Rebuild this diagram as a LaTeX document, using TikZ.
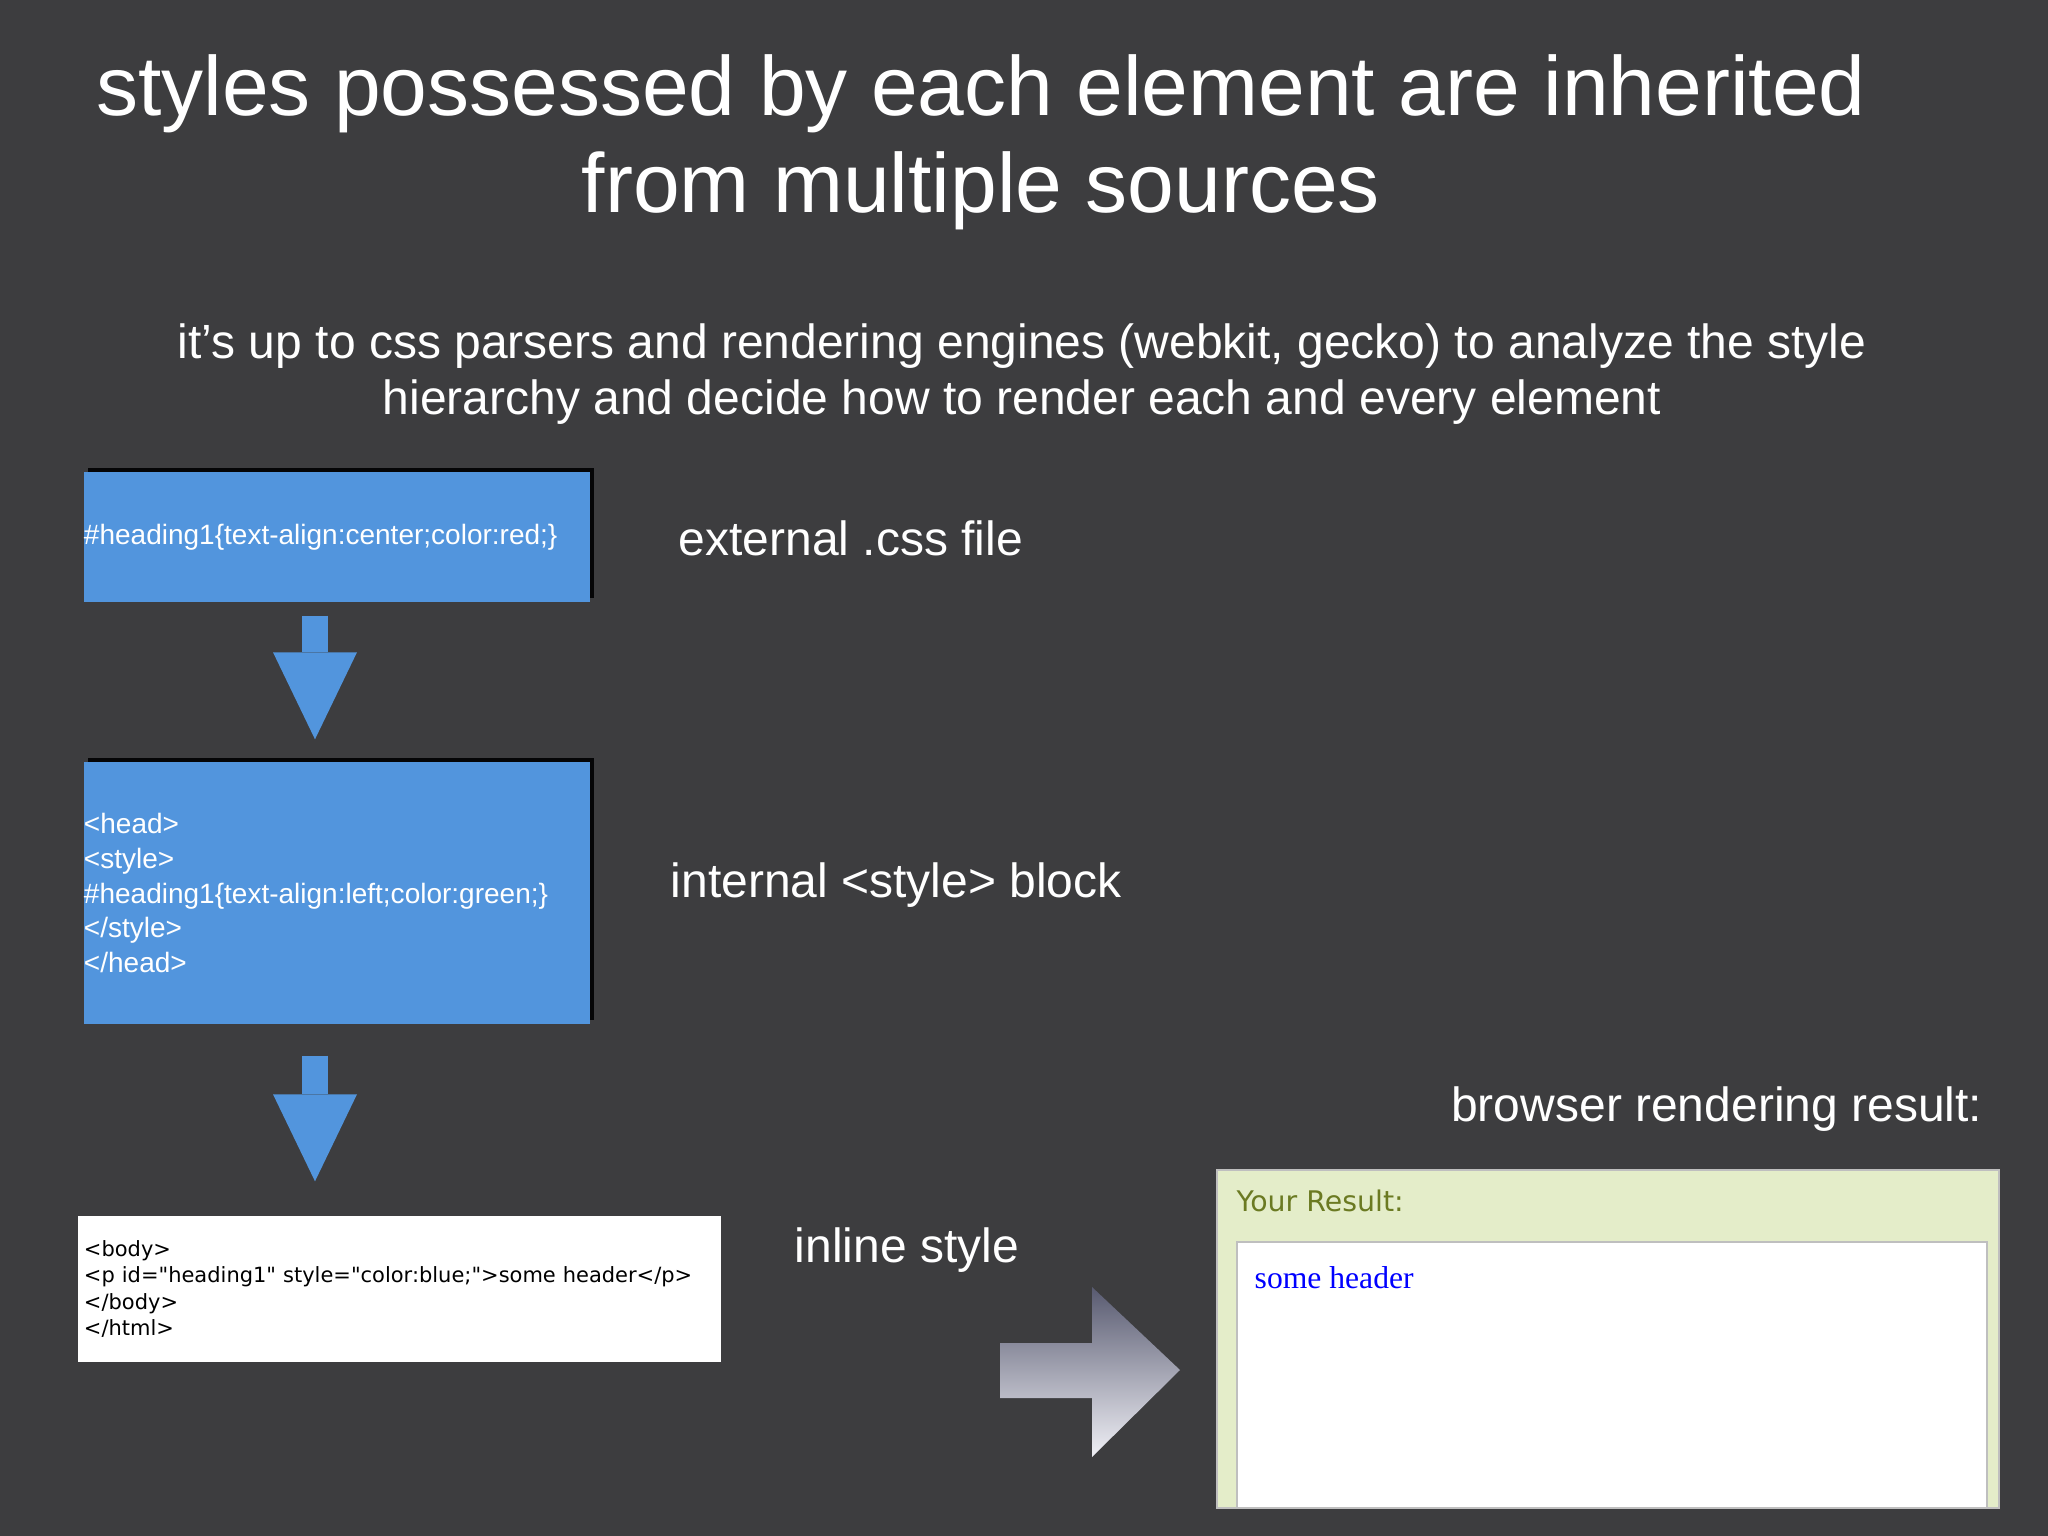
\documentclass[tikz,border=0pt]{standalone}
\usepackage{fontspec}
\setmainfont{Liberation Sans}
\newfontfamily\codefont{DejaVu Sans}
\newfontfamily\pagefont{Liberation Serif}
\usetikzlibrary{arrows.meta,shadows}
\definecolor{slatebg}{RGB}{61,61,63}
\definecolor{cssblue}{RGB}{82,149,221}
\definecolor{panelgreen}{RGB}{228,237,201}
\definecolor{olivetext}{RGB}{107,122,34}
\definecolor{arrowdark}{RGB}{88,90,112}
\definecolor{arrowlight}{RGB}{240,240,246}
\begin{document}
\begin{tikzpicture}[
  slidetext/.style={text=white, inner sep=0pt},
  bigtitle/.style={slidetext, align=center, font=\fontsize{23.9}{27.6}\selectfont},
  subtitle/.style={slidetext, align=center, font=\fontsize{13.66}{15.93}\selectfont},
  sidelabel/.style={slidetext, anchor=base west, font=\fontsize{13.66}{16}\selectfont},
  cssbox/.style={rectangle, fill=cssblue, text=white, align=left, inner sep=0pt, text width=5.06cm,
    font=\fontsize{7.97}{9.82}\selectfont,
    drop shadow={shadow xshift=0.04cm, shadow yshift=0.04cm, opacity=0.9, fill=black}},
  codebox/.style={rectangle, fill=white, text=black, align=left, inner xsep=0.06cm, inner ysep=0pt,
    text width=6.31cm, minimum height=1.46cm, font=\codefont\fontsize{5.97}{7.48}\selectfont},
  flow/.style={cssblue, line width=0.26cm, -{Triangle[width=0.84cm, length=0.87cm, line width=0pt]}},
]
\useasboundingbox (0,0) rectangle (20.48,-15.36);
\fill[slatebg] (0,0) rectangle (20.48,-15.36);

\node[bigtitle] (title) at (9.81,-1.42) {styles possessed by each element are inherited\\from multiple sources};
\node[subtitle] (intro) at (10.22,-3.745) {it’s up to css parsers and rendering engines (webkit, gecko) to analyze the style\\hierarchy and decide how to render each and every element};

% the three places a style can come from
\node[cssbox, minimum height=1.30cm] (external) at (3.37,-5.37) {\#heading1\{text-align:center;color:red;\}};
\node[cssbox, minimum height=2.62cm] (internal) at (3.37,-8.93) {<head>\\<style>\\\#heading1\{text-align:left;color:green;\}\\</style>\\</head>};
\node[codebox] (inline) at (3.995,-12.89) {<body>\\<p id="heading1" style="color:blue;">some header</p>\\</body>\\</html>};

\node[sidelabel] (externallabel) at (6.78,-5.56) {external .css file};
\node[sidelabel] (internallabel) at (6.70,-8.97) {internal <style> block};
\node[sidelabel] (inlinelabel) at (7.94,-12.62) {inline style};
\node[slidetext, anchor=base east, font=\fontsize{13.66}{16}\selectfont] (browserlabel) at (19.83,-11.21) {browser rendering result:};

\draw[flow, shorten <=0.13cm, shorten >=0.22cm] ([xshift=-0.22cm]external.south) -- ([xshift=-0.22cm]internal.north);
\draw[flow, shorten <=0.31cm, shorten >=0.34cm] ([xshift=-0.22cm]internal.south) -- ([xshift=-0.22cm]internal.south |- inline.north);

% browser output
\node[rectangle, fill=panelgreen, draw=black!25, line width=0.02cm, minimum width=7.82cm, minimum height=3.38cm] (result) at (16.08,-13.39) {};
\node[rectangle, fill=white, draw=black!25, line width=0.02cm, minimum width=7.50cm, minimum height=2.66cm] (resultbody) at (16.12,-13.75) {};
\node[anchor=base west, text=olivetext, inner sep=0pt, font=\codefont\fontsize{8.08}{10}\selectfont] (yourresult) at (12.36,-12.11) {Your Result:};
\node[anchor=base west, text=blue, inner sep=0pt, font=\pagefont\fontsize{9}{11}\selectfont] (someheader) at (12.54,-12.88) {some header};

\shade[top color=arrowdark, bottom color=arrowlight] (10.00,-13.43) -- (10.92,-13.43) -- (10.92,-12.87) -- (11.80,-13.70) -- (10.92,-14.57) -- (10.92,-13.98) -- (10.00,-13.98) -- cycle;
\end{tikzpicture}
\end{document}
